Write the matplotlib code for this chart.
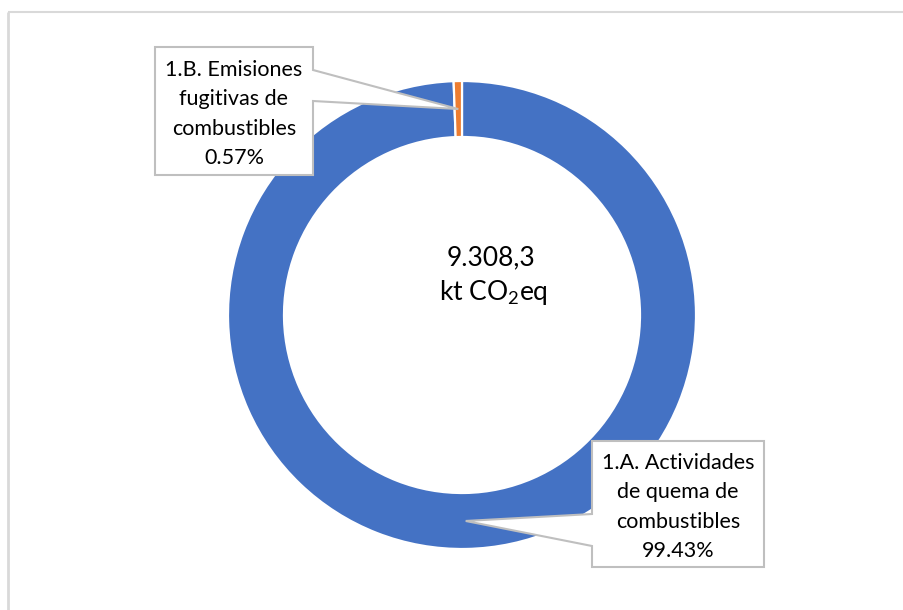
import numpy as np
import matplotlib
matplotlib.use("Agg")
import matplotlib.pyplot as plt
from matplotlib.patches import Polygon

plt.rcParams['font.family'] = ['Lato', 'DejaVu Sans']

# Emissions by subcategory (share of total, %)
categories = ["1.A. Actividades\nde quema de\ncombustibles", "1.B. Emisiones\nfugitivas de\ncombustibles"]
shares = [99.43, 0.57]
share_labels = ["99.43%", "0.57%"]
colors = ["#4472C4", "#ED7D31"]
total_text = "9.308,3"
unit_text = r"kt CO$_\mathregular{2}$eq"

W, H = 904, 610
fig = plt.figure(figsize=(W / 100, H / 100), dpi=100)
ax = fig.add_axes([0, 0, 1, 1])

# work in pixel-like units, y measured from the bottom
cx, cy = 462, H - 315
r_out, ring = 234, 56
wedges, _ = ax.pie(shares, radius=r_out, center=(cx, cy), startangle=90,
                   counterclock=False, colors=colors,
                   wedgeprops=dict(width=ring, edgecolor="white", linewidth=1.6))
ax.set_xlim(0, W)
ax.set_ylim(0, H)
ax.set_aspect("equal")
ax.axis("off")

# chart area frame (only top and left edges visible)
ax.plot([8, W], [H - 12, H - 12], color="#d9d9d9", lw=1.5, solid_capstyle="butt")
ax.plot([8, 8], [0, H - 12], color="#d9d9d9", lw=2, solid_capstyle="butt")


def tip_of(w):
    ang = np.deg2rad((w.theta1 + w.theta2) / 2)
    rm = r_out - ring / 2
    return cx + rm * np.cos(ang), cy + rm * np.sin(ang)


def callout(box, side, gap, tip, text):
    l, r, t, b = box
    t, b = H - t, H - b
    g1, g2 = H - gap[0], H - gap[1]
    if side == "right":
        pts = [(l, t), (r, t), (r, g1), tip, (r, g2), (r, b), (l, b)]
    else:
        pts = [(l, t), (r, t), (r, b), (l, b), (l, g2), tip, (l, g1)]
    ax.add_patch(Polygon(pts, closed=True, facecolor="white",
                         edgecolor="#bfbfbf", lw=1.5, zorder=5))
    ax.text((l + r) / 2, (t + b) / 2 - 3, text, ha="center", va="center",
            fontsize=15.5, linespacing=1.58, color="black", zorder=6)


callout((155, 313, 47, 175), "right", (70, 101), tip_of(wedges[1]),
        categories[1] + "\n" + share_labels[1])
callout((592, 764, 441, 567), "left", (514, 546), tip_of(wedges[0]),
        categories[0] + "\n" + share_labels[0])

ax.text(491, H - 258, total_text, ha="center", va="center", fontsize=19)
ax.text(493, H - 293, unit_text, ha="center", va="center", fontsize=19)

fig.savefig("out.png", dpi=100, facecolor="white")
